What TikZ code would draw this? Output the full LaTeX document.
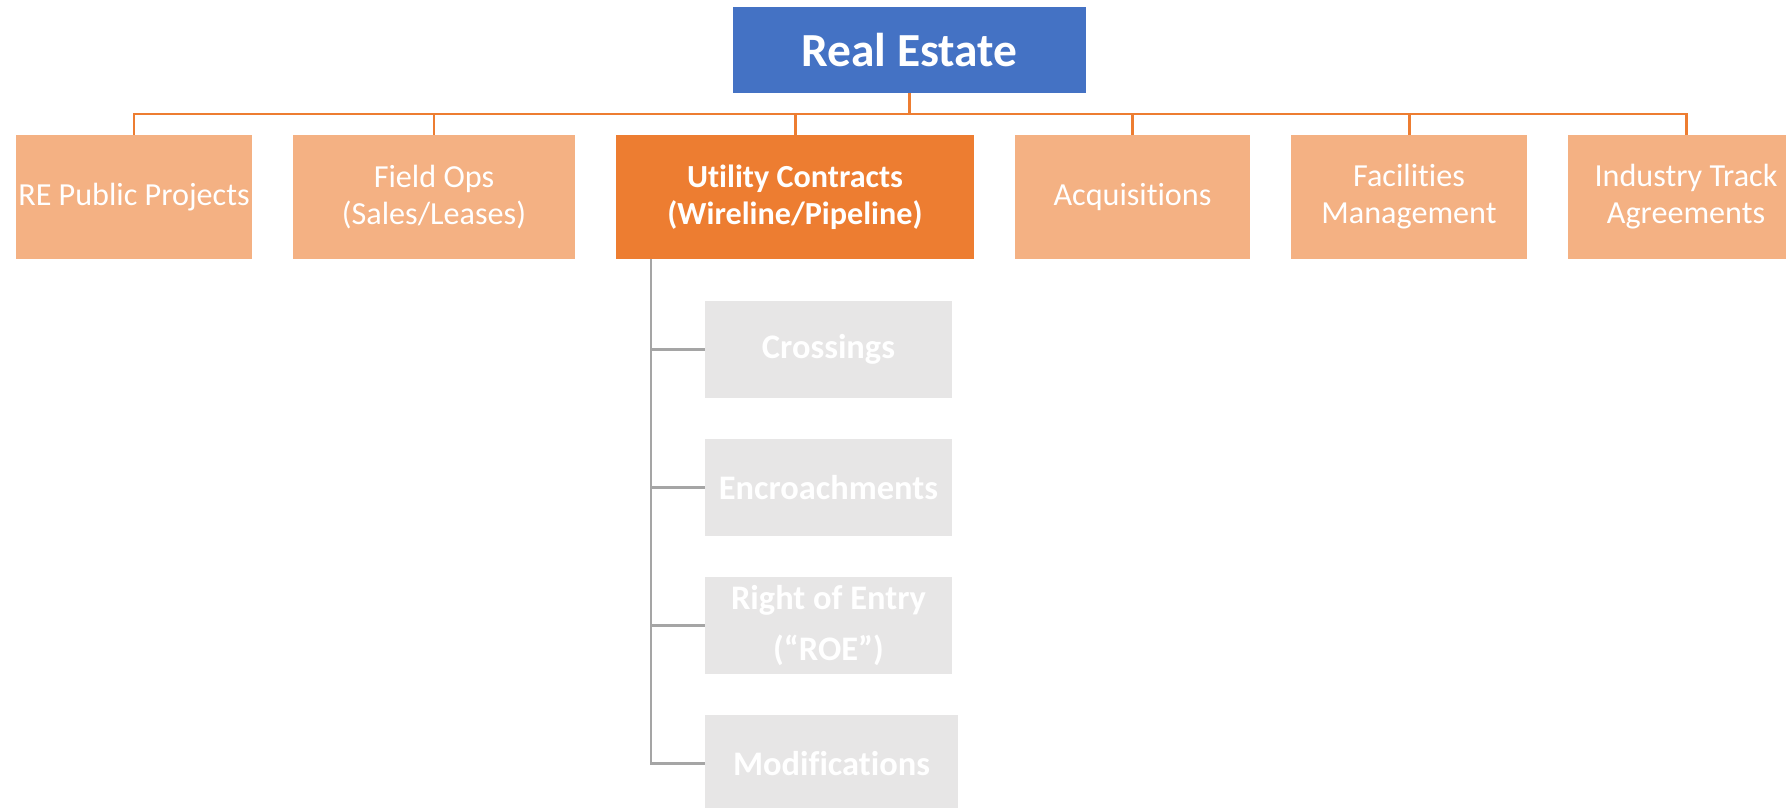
\documentclass[tikz,border=0pt]{standalone}
\usepackage{fontspec}
\setmainfont[Ligatures=NoCommon]{Carlito}
\usetikzlibrary{positioning}
\definecolor{reblue}{HTML}{4472C4}
\definecolor{reorange}{HTML}{ED7D31}
\definecolor{relight}{HTML}{F4B183}
\definecolor{regray}{HTML}{E7E6E6}
\definecolor{relinegray}{HTML}{A5A5A5}

\begin{document}
\begin{tikzpicture}[-,thick,node distance=0.82cm,
    top node/.style={rectangle,fill=reblue,text=white,font=\fontsize{27}{32}\selectfont\bfseries,minimum width=7.06cm,minimum height=1.72cm,inner sep=0pt,outer sep=0pt},
    unit node/.style={rectangle,fill=relight,text=white,align=center,font=\fontsize{18.3}{21}\selectfont,minimum height=2.48cm,inner sep=0pt,outer sep=0pt},
    sub node/.style={rectangle,fill=regray,text=white,align=center,font=\fontsize{19.6}{29.5}\selectfont\bfseries,minimum width=4.94cm,minimum height=1.94cm,inner sep=0pt,outer sep=0pt},
    org line/.style={draw=reorange,line width=1.7pt},
    sub line/.style={draw=relinegray,line width=1.7pt}]

                \useasboundingbox (0,0) rectangle (35.72,-16.16);

                \node[top node] (1) at (18.19,-1.0) {Real Estate};

                \node[unit node, minimum width=4.72cm] (2) at (2.68,-3.94) {RE Public Projects};
                \node[unit node, minimum width=5.64cm] (3) [right = of 2] {Field Ops\\(Sales/Leases)};
                \node[unit node, minimum width=7.16cm, fill=reorange, font=\fontsize{18.3}{21}\selectfont\bfseries] (4) [right = of 3] {Utility Contracts\\(Wireline/Pipeline)};
                \node[unit node, minimum width=4.70cm] (5) [right = of 4] {Acquisitions};
                \node[unit node, minimum width=4.72cm] (6) [right = of 5] {Facilities\\Management};
                \node[unit node, minimum width=4.72cm] (7) [right = of 6] {Industry Track\\Agreements};

                \node[sub node] (8) at (16.57,-6.99) {Crossings};
                \node[sub node] (9) [below = of 8] {Encroachments};
                \node[sub node] (10) [below = of 9] {Right of Entry\\(``ROE'')};
                \node[sub node, minimum width=5.06cm] (11) [below = 0.82cm of 10.south west, anchor=north west] {Modifications};

                \coordinate (bar) at (18.19,-2.28);
                \coordinate (spine) at ([xshift=0.7cm]4.south west);

                \draw[org line] (1) -- (bar);
                \draw[org line] (bar) -| (2);
                \draw[org line] (bar) -| (3);
                \draw[org line] (bar) -| (4);
                \draw[org line] (bar) -| (5);
                \draw[org line] (bar) -| (6);
                \draw[org line] (bar) -| (7);

                \draw[sub line] (spine) |- (8);
                \draw[sub line] (spine) |- (9);
                \draw[sub line] (spine) |- (10);
                \draw[sub line] (spine) |- (11);

            \end{tikzpicture}
\end{document}
